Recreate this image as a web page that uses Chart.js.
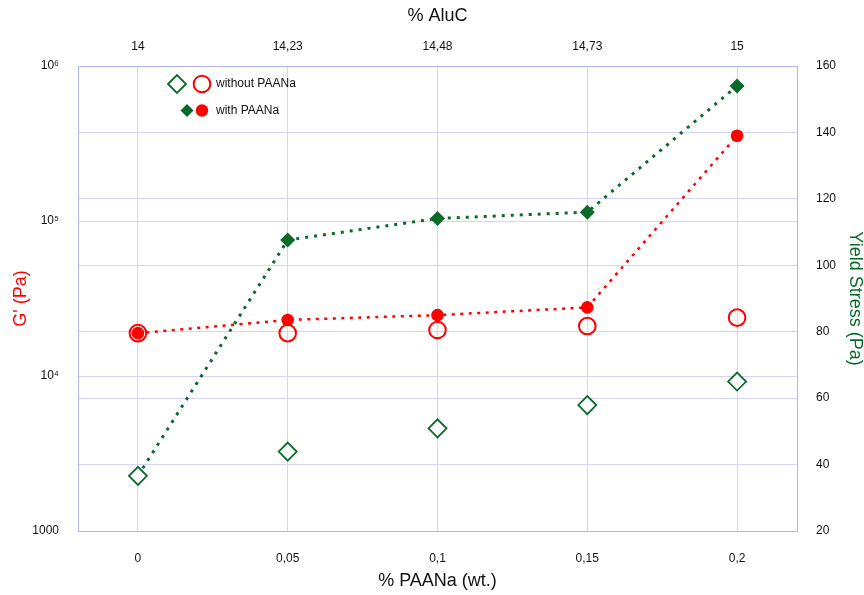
<!DOCTYPE html>
<html>
<head>
<meta charset="utf-8">
<script src="https://cdn.jsdelivr.net/npm/chart.js@4"></script>
<style>
  body { margin: 0; background: #fff; }
  #wrap { width: 864px; height: 595px; }
</style>
</head>
<body>
<div id="wrap"><canvas id="chart" width="864" height="595"></canvas></div>
<script>
// data
const paana = [0, 0.05, 0.1, 0.15, 0.2];
const paanaLabels = ['0', '0,05', '0,1', '0,15', '0,2'];
const alucLabels = ['14', '14,23', '14,48', '14,73', '15'];
const gWithout = [18900, 18900, 19800, 21000, 23800];
const gWith = [18900, 23000, 24700, 27700, 355000];
const ysWithout = [36.6, 43.9, 50.9, 57.9, 65];
const ysWith = [36.6, 107.6, 114.1, 116, 154];
const gTicks = [1000, 10000, 100000, 1000000];
const gTickLabels = ['1000', '10\u2074', '10\u2075', '10\u2076'];

const red = '#ff0000';
const green = '#0a6a2a';
const gridColor = '#d4d4f4';
const borderColor = '#b4b4ec';
const font = "'Liberation Sans', Arial, sans-serif";

const pts = arr => arr.map((v, i) => ({ x: paana[i], y: v }));

// legend drawn by hand, two markers per row
const legendPlugin = {
  id: 'pairLegend',
  afterDraw(chart) {
    const c = chart.ctx;
    c.save();
    function diamond(x, y, r, fill) {
      c.beginPath();
      c.moveTo(x - r, y); c.lineTo(x, y - r); c.lineTo(x + r, y); c.lineTo(x, y + r);
      c.closePath();
      if (fill) { c.fillStyle = green; c.fill(); }
      else { c.fillStyle = '#fff'; c.fill(); c.lineWidth = 1.8; c.strokeStyle = green; c.stroke(); }
    }
    function circle(x, y, r, fill) {
      c.beginPath();
      c.arc(x, y, r, 0, Math.PI * 2);
      if (fill) { c.fillStyle = red; c.fill(); }
      else { c.lineWidth = 2; c.strokeStyle = red; c.stroke(); }
    }
    diamond(177, 84, 9, false);
    circle(202, 84, 8.3, false);
    diamond(187, 110.5, 6.5, true);
    circle(202, 110.5, 6.2, true);
    c.fillStyle = '#111';
    c.font = '12px ' + font;
    c.textBaseline = 'middle';
    c.fillText('without PAANa', 216, 84);
    c.fillText('with PAANa', 216, 110.5);
    c.restore();
  }
};

new Chart(document.getElementById('chart'), {
  type: 'scatter',
  data: {
    datasets: [
      {
        label: 'Yield stress without PAANa',
        data: pts(ysWithout),
        yAxisID: 'y2',
        showLine: false,
        pointStyle: 'rectRot',
        pointRadius: 9,
        pointBorderWidth: 1.8,
        pointBorderColor: green,
        pointBackgroundColor: '#fff'
      },
      {
        label: "G' with PAANa",
        data: pts(gWith),
        yAxisID: 'y',
        showLine: true,
        borderColor: red,
        borderWidth: 2.5,
        borderDash: [3, 5.5],
        pointStyle: 'circle',
        pointRadius: 6.3,
        pointBorderWidth: 0,
        pointBackgroundColor: red
      },
      {
        label: "G' without PAANa",
        data: pts(gWithout),
        yAxisID: 'y',
        showLine: false,
        pointStyle: 'circle',
        pointRadius: 8.3,
        pointBorderWidth: 2,
        pointBorderColor: red,
        pointBackgroundColor: 'rgba(255,255,255,0)'
      },
      {
        label: 'Yield stress with PAANa',
        data: pts(ysWith),
        yAxisID: 'y2',
        showLine: true,
        borderColor: green,
        borderWidth: 3,
        borderDash: [3, 6],
        pointStyle: 'rectRot',
        pointRadius: [0, 7.5, 7.5, 7.5, 7.5],
        pointBorderWidth: 0,
        pointBackgroundColor: green
      }
    ]
  },
  options: {
    responsive: false,
    animation: false,
    layout: { padding: 0 },
    plugins: { legend: { display: false }, tooltip: { enabled: false } },
    scales: {
      x: {
        type: 'linear',
        position: 'bottom',
        min: -0.02,
        max: 0.22,
        afterBuildTicks: s => { s.ticks = paana.map(v => ({ value: v })); },
        afterFit: s => { s.height = 64; },
        ticks: {
          callback: (v, i) => paanaLabels[i],
          color: '#111',
          font: { family: font, size: 12 },
          padding: 20,
          maxRotation: 0
        },
        grid: { color: gridColor, drawTicks: false },
        border: { color: borderColor },
        title: {
          display: true,
          text: '% PAANa (wt.)',
          color: '#111',
          font: { family: font, size: 18 },
          padding: { top: 0, bottom: 3 }
        }
      },
      x2: {
        type: 'linear',
        position: 'top',
        min: -0.02,
        max: 0.22,
        afterBuildTicks: s => { s.ticks = paana.map(v => ({ value: v })); },
        afterFit: s => { s.height = 66; },
        ticks: {
          callback: (v, i) => alucLabels[i],
          color: '#111',
          font: { family: font, size: 12 },
          padding: 12,
          maxRotation: 0
        },
        grid: { display: false, drawTicks: false },
        border: { color: borderColor },
        title: {
          display: true,
          text: '% AluC',
          color: '#111',
          font: { family: font, size: 18 },
          padding: { top: 5, bottom: 0 }
        }
      },
      y: {
        type: 'logarithmic',
        position: 'left',
        min: 1000,
        max: 1000000,
        afterBuildTicks: s => { s.ticks = gTicks.map(v => ({ value: v })); },
        afterFit: s => { s.width = 78; },
        ticks: {
          callback: (v, i) => gTickLabels[i],
          color: '#111',
          font: { family: font, size: 12 },
          padding: 19
        },
        grid: { color: gridColor, drawTicks: false },
        border: { color: borderColor },
        title: {
          display: true,
          text: "G' (Pa)",
          color: red,
          font: { family: font, size: 18 },
          padding: { top: 10, bottom: 0 }
        }
      },
      y2: {
        type: 'linear',
        position: 'right',
        min: 20,
        max: 160,
        afterFit: s => { s.width = 67; },
        ticks: {
          stepSize: 20,
          color: '#111',
          font: { family: font, size: 12 },
          padding: 19
        },
        grid: { color: gridColor, drawTicks: false },
        border: { color: borderColor },
        title: {
          display: true,
          text: 'Yield Stress (Pa)',
          color: green,
          font: { family: font, size: 18, lineHeight: 1 },
          padding: { top: 0, bottom: 0 }
        }
      }
    }
  },
  plugins: [legendPlugin]
});
</script>
</body>
</html>
